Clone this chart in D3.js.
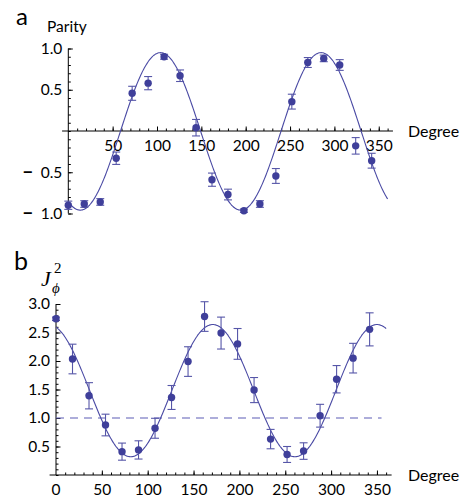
<!DOCTYPE html>
<html>
<head>
<meta charset="utf-8">
<script src="https://cdn.jsdelivr.net/npm/d3@7"></script>
<style>
  body { margin: 0; background: #fff; }
  svg { font-family: Lato, "Open Sans", sans-serif; }
  .axis path, .axis line { stroke: #000; stroke-width: 1; }
  .axis text { font-size: 15.5px; fill: #000; font-family: Lato, sans-serif; }
</style>
</head>
<body>
<svg id="chart" width="467" height="500"></svg>
<script>
// angles (deg) shared by both panels
const angles = [0, 18, 36, 54, 72, 90, 108, 126, 144, 162, 180, 198, 216, 234, 252, 270, 288, 306, 324, 342];

// panel a: parity
const parity = [-0.90, -0.885, -0.86, -0.33, 0.457, 0.58, 0.90, 0.67, 0.04, -0.59,
                -0.77, -0.966, -0.885, -0.545, 0.356, 0.83, 0.88, 0.80, -0.18, -0.36];
const parityErr = [0.05, 0.04, 0.04, 0.075, 0.085, 0.08, 0.03, 0.07, 0.1, 0.08,
                   0.065, 0.02, 0.04, 0.09, 0.09, 0.06, 0.04, 0.065, 0.1, 0.09];
// fit: [offset, amplitude, period (deg), peak (deg)]
const parityFit = [-0.005, 0.955, 181, 104];

// panel b: J_phi^2
const jsq = [2.74, 2.035, 1.39, 0.877, 0.41, 0.44, 0.82, 1.36, 1.99, 2.78,
             2.49, 2.30, 1.49, 0.63, 0.36, 0.42, 1.04, 1.68, 2.05, 2.555];
const jsqErr = [0.03, 0.26, 0.23, 0.19, 0.15, 0.16, 0.175, 0.21, 0.26, 0.26,
                0.28, 0.27, 0.22, 0.17, 0.14, 0.145, 0.2, 0.24, 0.26, 0.29];
const jsqFit = [1.48, 1.16, 179, 171];
const jsqRef = 1.0;

const xTicksA = [50, 100, 150, 200, 250, 300, 350];
const yTicksA = [-1, -0.5, 0.5, 1];
const xTicksB = [0, 50, 100, 150, 200, 250, 300, 350];
const yTicksB = [0.5, 1, 1.5, 2, 2.5, 3];

const pointColor = "#3f3f9a";
const barColor = "#5656a8";
const lineColor = "#4a4aa4";

const svg = d3.select("#chart");

function fitLine(p) {
  return d3.range(0, 361, 1).map(t => [t, p[0] + p[1] * Math.cos(2 * Math.PI * (t - p[3]) / p[2])]);
}

function minorTicks(lo, hi, step) {
  const out = [];
  for (let v = lo; v <= hi + 1e-9; v += step) out.push(+v.toFixed(4));
  return out;
}

function drawPanel(opt) {
  const { x, y, g } = opt;

  // x axis (ticks point up, labels below)
  const xAxisY = y(0);
  const gx = g.append("g").attr("class", "axis").attr("transform", `translate(0,${xAxisY})`);
  gx.append("line").attr("x1", x(-7)).attr("x2", x(366)).attr("y1", 0).attr("y2", 0);
  gx.append("g").call(d3.axisBottom(x).tickValues(minorTicks(0, 360, 10).filter(v => v !== 0))
      .tickSizeInner(-2.5).tickSizeOuter(0).tickFormat(""))
    .call(s => s.select(".domain").remove());
  gx.append("g").call(d3.axisBottom(x).tickValues(opt.xTicks.filter(v => v !== 0))
      .tickSizeInner(-4.5).tickSizeOuter(0).tickPadding(9).tickFormat(d3.format("d")))
    .call(s => s.select(".domain").remove());
  if (opt.xTicks.includes(0)) {
    gx.append("text").attr("x", x(0)).attr("y", 9).attr("dy", "0.71em")
      .attr("text-anchor", "middle").text("0");
  }

  // y axis (ticks point right, labels left)
  const gy = g.append("g").attr("class", "axis").attr("transform", `translate(${x(0)},0)`);
  gy.append("line").attr("x1", 0).attr("x2", 0).attr("y1", y(opt.yDom[0])).attr("y2", y(opt.yDom[1]));
  gy.append("g").call(d3.axisLeft(y).tickValues(minorTicks(opt.yDom[0], opt.yDom[1], 0.1))
      .tickSizeInner(-2.5).tickSizeOuter(0).tickFormat(""))
    .call(s => s.select(".domain").remove());
  const yAx = gy.append("g").call(d3.axisLeft(y).tickValues(opt.yTicks)
      .tickSizeInner(-4.5).tickSizeOuter(0).tickPadding(6).tickFormat(d3.format(".1f")))
    .call(s => s.select(".domain").remove());
  // Mathematica-style negative labels: long dash, gap, number
  yAx.selectAll(".tick text").each(function (d) {
    if (d < 0) {
      const t = d3.select(this).text("");
      t.append("tspan").attr("font-weight", "bold").attr("font-size", 20).text("\u2013");
      t.append("tspan").attr("dx", 7).text(d3.format(".1f")(-d));
    }
  });

  // reference line
  if (opt.ref != null) {
    g.append("line").attr("x1", x(0)).attr("x2", x(355)).attr("y1", y(opt.ref)).attr("y2", y(opt.ref))
      .attr("stroke", "#5c5cb6").attr("stroke-width", 1.1).attr("stroke-dasharray", "8,6");
  }

  // fit curve
  const line = d3.line().x(d => x(d[0])).y(d => y(d[1])).curve(d3.curveBasis);
  g.append("path").datum(fitLine(opt.fit)).attr("d", line)
    .attr("fill", "none").attr("stroke", lineColor).attr("stroke-width", 1.1);

  // error bars
  const pts = opt.ang.map((a, i) => ({ a, v: opt.vals[i], e: opt.errs[i] }));
  const eb = g.append("g").attr("stroke", barColor).attr("stroke-width", 1.1);
  eb.selectAll(".v").data(pts).join("line")
    .attr("x1", d => x(d.a)).attr("x2", d => x(d.a))
    .attr("y1", d => y(d.v - d.e)).attr("y2", d => y(d.v + d.e));
  eb.selectAll(".t").data(pts).join("line")
    .attr("x1", d => x(d.a) - 4).attr("x2", d => x(d.a) + 4)
    .attr("y1", d => y(d.v + d.e)).attr("y2", d => y(d.v + d.e));
  eb.selectAll(".b").data(pts).join("line")
    .attr("x1", d => x(d.a) - 4).attr("x2", d => x(d.a) + 4)
    .attr("y1", d => y(d.v - d.e)).attr("y2", d => y(d.v - d.e));

  // points
  g.append("g").selectAll("circle").data(pts).join("circle")
    .attr("cx", d => x(d.a)).attr("cy", d => y(d.v)).attr("r", 3.7)
    .attr("fill", pointColor);

  // "Degree"
  g.append("text").attr("x", 408).attr("y", xAxisY).attr("dy", "0.35em")
    .attr("font-size", 16).text("Degree");
}

// panel a
const gA = svg.append("g");
const xA = d3.scaleLinear().domain([0, 360]).range([68.3, 68.3 + 0.887 * 360]);
const yA = d3.scaleLinear().domain([-1, 1]).range([213.5, 48.5]);
drawPanel({ g: gA, x: xA, y: yA, yDom: [-1, 1], xTicks: xTicksA, yTicks: yTicksA,
  ang: angles, vals: parity, errs: parityErr, fit: parityFit, ref: null });
gA.append("text").attr("x", 16).attr("y", 24.5).attr("font-size", 24).text("a");
gA.append("text").attr("x", 47).attr("y", 32).attr("font-size", 15.5).text("Parity");

// panel b
const gB = svg.append("g");
const xB = d3.scaleLinear().domain([0, 360]).range([56, 56 + 0.917 * 360]);
const yB = d3.scaleLinear().domain([0, 3]).range([475, 304]);
drawPanel({ g: gB, x: xB, y: yB, yDom: [0, 3], xTicks: xTicksB, yTicks: yTicksB,
  ang: angles, vals: jsq, errs: jsqErr, fit: jsqFit, ref: jsqRef });
gB.append("text").attr("x", 14).attr("y", 270).attr("font-size", 25).text("b");
const jl = gB.append("g").attr("font-family", "'Liberation Serif', 'DejaVu Serif', serif").attr("font-style", "italic");
jl.append("text").attr("x", 41).attr("y", 286).attr("font-size", 22).text("J");
jl.append("text").attr("x", 54).attr("y", 273).attr("font-size", 15).attr("font-style", "normal").text("2");
jl.append("text").attr("x", 52).attr("y", 293).attr("font-size", 15).text("\u03d5");
</script>
</body>
</html>
